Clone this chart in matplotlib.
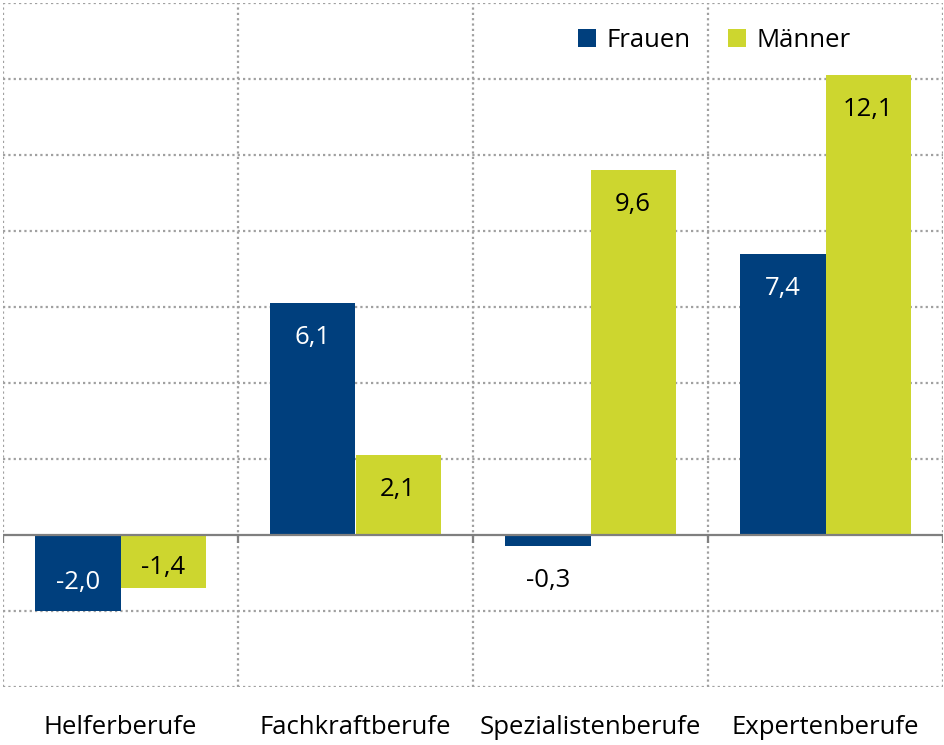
import matplotlib.pyplot as plt
import numpy as np

categories = ["Helferberufe", "Fachkraftberufe", "Spezialistenberufe", "Expertenberufe"]
frauen = [-2.0, 6.1, -0.3, 7.4]
maenner = [-1.4, 2.1, 9.6, 12.1]
series_names = ["Frauen", "Männer"]

NAVY = "#003f7d"
LIME = "#cdd62f"
GRID = "#a0a0a0"
FS = 18.5

plt.rcParams["font.family"] = ["Open Sans", "DejaVu Sans"]

fig = plt.figure(figsize=(9.44, 7.45), dpi=100)
ax = fig.add_axes([3 / 944, 58 / 745, 940 / 944, 684 / 745])

x = np.arange(len(categories))
width = 0.362

ax.bar(x - width / 2, frauen, width, color=NAVY, label=series_names[0], zorder=3)
ax.bar(x + width / 2, maenner, width, color=LIME, label=series_names[1], zorder=3)


def fmt(v):
    return f"{v:.1f}".replace(".", ",")


def label_bars(vals, xs, inside_color):
    for xi, v in zip(xs, vals):
        if v >= 0:
            y, c = v - 0.9, inside_color
        elif v > -0.8:
            y, c = v - 0.9, "black"
        else:
            y, c = v * 0.62, inside_color
        ax.text(xi, y, fmt(v), ha="center", va="center", fontsize=FS,
                color=c, zorder=4)


label_bars(frauen, x - width / 2, "white")
label_bars(maenner, x + width / 2, "black")

ax.set_xlim(-0.5, 3.5)
ax.set_ylim(-4, 14)

# dotted grid
for yv in np.arange(-4, 15, 2):
    if yv == 0:
        continue
    ax.axhline(yv, color=GRID, linestyle=(0, (1, 1.4)), linewidth=1.6, zorder=1)
for xv in np.arange(-0.5, 3.6, 1):
    ax.axvline(xv, color=GRID, linestyle=(0, (1, 1.4)), linewidth=1.6, zorder=1)

# zero line with small ticks
ax.axhline(0, color="#7f7f7f", linewidth=1.6, zorder=5)
ax.vlines(np.arange(-0.5, 3.6, 1), -0.2, 0, color="#7f7f7f", linewidth=1.6, zorder=5)

for s in ax.spines.values():
    s.set_visible(False)
ax.set_yticks([])
ax.set_xticks(x)
ax.set_xticklabels(categories, fontsize=FS)
ax.tick_params(axis="x", length=0, pad=20)

ax.legend(loc="upper right", bbox_to_anchor=(0.926, 0.997), ncol=2, frameon=False,
          fontsize=FS, handlelength=0.7, handleheight=0.7, handletextpad=0.4,
          columnspacing=1.45)

fig.savefig("out.png", dpi=100)
